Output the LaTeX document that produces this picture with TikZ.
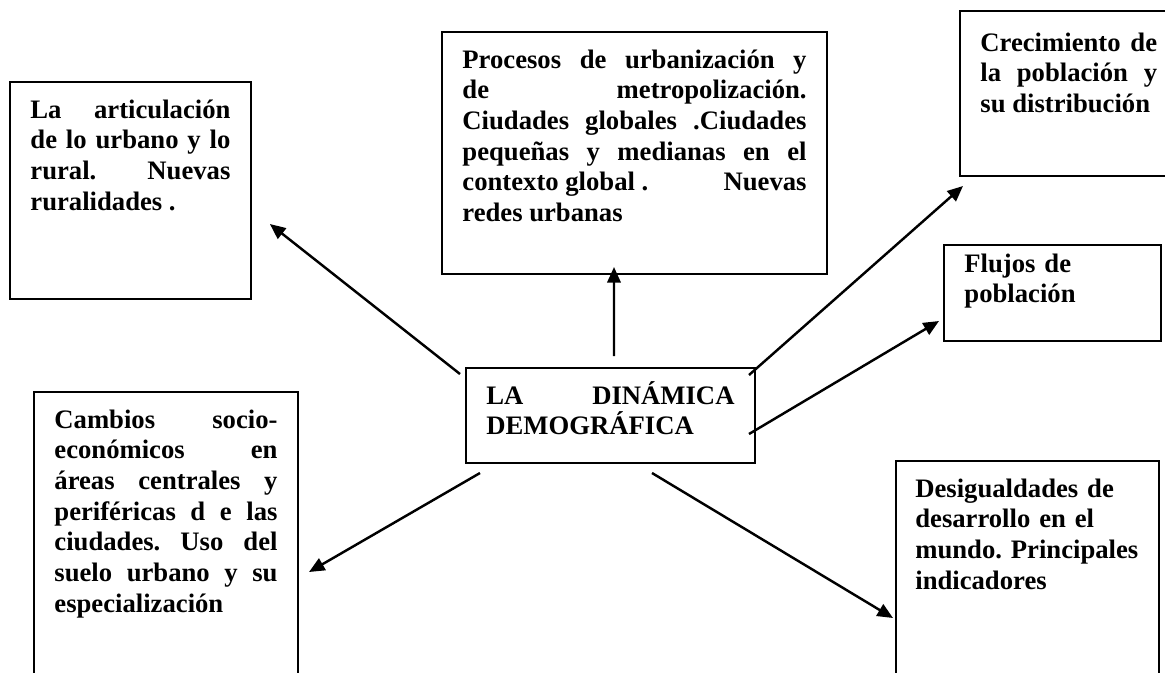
\documentclass[tikz,border=0pt]{standalone}
\usepackage{fontspec}
\setmainfont{Liberation Serif}
\usetikzlibrary{arrows.meta}
\tolerance=10000
\hbadness=10000
\hyphenpenalty=10000
\frenchspacing

\tikzset{
	caja/.style={draw, line width=0.9pt, anchor=north west, inner xsep=9.2pt, inner ysep=7.2pt,
		text height=9pt, align=justify, font=\fontsize{12}{13.8}\selectfont\bfseries},
	flecha/.style={line width=1.1pt, -{Triangle[length=7pt,width=6pt]}}
}

\begin{document}
\begin{tikzpicture}[x=0.45pt, y=-0.45pt]
	\useasboundingbox (0,0) rectangle (1165,672);
	\clip (0,0) rectangle (1165,672);
	% cajas
	\node[caja, text width=90pt, text depth=74.25pt] (artic) at (9,81)
		{La articulación\linebreak de lo urbano y lo\linebreak rural. Nuevas\linebreak ruralidades .};
	\node[caja, text width=154.85pt, text depth=85.5pt] (proc) at (441,31)
		{Procesos de urbanización y\linebreak de metropolización.\linebreak Ciudades globales .Ciudades\linebreak pequeñas y medianas en el\linebreak contexto global .\hfill Nuevas\linebreak redes urbanas};
	\node[caja, text width=79.5pt, inner ysep=9pt, text depth=47.25pt] (crec) at (959,10)
		{Crecimiento de\linebreak la población y\linebreak su distribución};
	\node[caja, align=left, text width=79.25pt, inner ysep=3.2pt, text depth=27.8pt] (fluj) at (943,244)
		{Flujos de\\ población};
	\node[caja, text width=111.65pt, text depth=19.35pt] (dyn) at (465,367)
		{LA DINÁMICA\linebreak DEMOGRÁFICA};
	\node[caja, text width=100.4pt, text depth=111.15pt] (camb) at (33,391)
		{Cambios socio-\linebreak económicos en\linebreak áreas centrales y\linebreak periféricas d e las\linebreak ciudades. Uso del\linebreak suelo urbano y su\linebreak especialización};
	\node[caja, align=left, inner xsep=8.7pt, text width=101pt, text depth=80.1pt] (desig) at (895,460)
		{Desigualdades de\\ desarrollo en el\\ mundo. Principales\\ indicadores};
	% flechas
	\draw[flecha] ([shift={(-5,7)}]dyn.north west) -- ([shift={(18,-76)}]artic.south east);
	\draw[flecha] ([shift={(3.5,-11)}]dyn.north) -- ([shift={(-20.5,-8)}]proc.south);
	\draw[flecha] ([shift={(-7,8)}]dyn.north east) -- ([shift={(4,9)}]crec.south west);
	\draw[flecha] ([shift={(-7,-30)}]dyn.south east) -- ([shift={(-4,-21)}]fluj.south west);
	\draw[flecha] ([shift={(15,9)}]dyn.south west) -- ([shift={(10,181)}]camb.north east);
	\draw[flecha] ([shift={(41.5,9)}]dyn.south) -- ([shift={(-2,158)}]desig.north west);
\end{tikzpicture}
\end{document}
